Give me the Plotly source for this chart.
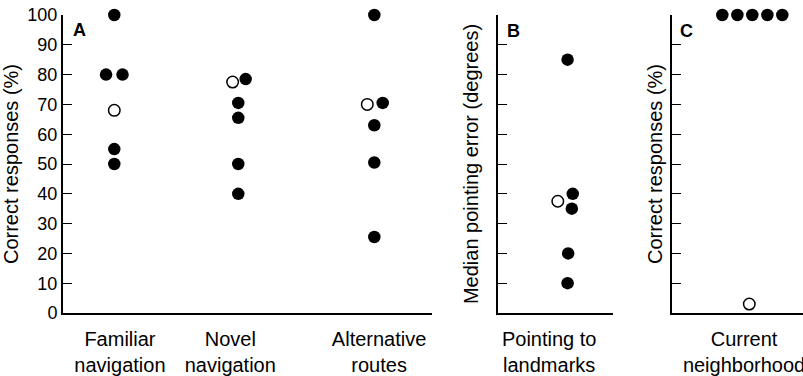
import plotly.graph_objects as go

# ---------------- data ----------------
categories_a = ["Familiar<br>navigation", "Novel<br>navigation", "Alternative<br>routes"]
familiar_filled = [100, 80, 80, 55, 50]
familiar_open = [68]
novel_filled = [78.5, 70.5, 65.5, 50, 40]
novel_open = [77.5]
alt_filled = [100, 70.5, 63, 50.5, 25.5]
alt_open = [70]

category_b = ["Pointing to<br>landmarks"]
pointing_filled = [85, 40, 35, 20, 10]
pointing_open = [37.5]

category_c = ["Current<br>neighborhood"]
neigh_filled = [100, 100, 100, 100, 100]
neigh_open = [3]

y_ticks = list(range(0, 101, 10))

# ---------------- layout helpers (positions / styles) ----------------
W, H = 803, 376
FONT = "Liberation Sans, Arial, Helvetica, sans-serif"

def xdom(a, b):
    return [a / W, b / W]

ydom = [1 - 313 / H, 1 - 15 / H]

# dot x positions (axis units) and small horizontal jitter for overlapping dots
a_centers = [0.417, 1.425, 2.531]
a_label_pos = [0.463, 1.36, 2.57]
familiar_jit_f = [0, -0.067, 0.067, 0, 0]
familiar_jit_o = [0]
novel_jit_f = [0.06, 0, 0, 0, 0]
novel_jit_o = [-0.046]
alt_jit_f = [0, 0.068, 0, 0, 0]
alt_jit_o = [-0.057]

b_center = 0.605
b_label_pos = [0.445]
point_jit_f = [0, 0.045, 0.037, 0.005, 0]
point_jit_o = [-0.085]

c_label_pos = [0.55]
neigh_jit_f = [0.384, 0.499, 0.613, 0.728, 0.842]
neigh_jit_o = [0.59]

filled_marker = dict(size=12.5, color="black", line=dict(width=0))
open_marker = dict(size=11.5, color="white", line=dict(width=1.5, color="black"))

fig = go.Figure()

def add_pts(vals, center, jit, marker, xa, ya):
    fig.add_trace(go.Scatter(
        x=[center + j for j in jit], y=vals, mode="markers", marker=marker,
        xaxis=xa, yaxis=ya, cliponaxis=False, showlegend=False, hoverinfo="y"))

# Panel A
add_pts(familiar_filled, a_centers[0], familiar_jit_f, filled_marker, "x", "y")
add_pts(familiar_open, a_centers[0], familiar_jit_o, open_marker, "x", "y")
add_pts(novel_filled, a_centers[1], novel_jit_f, filled_marker, "x", "y")
add_pts(novel_open, a_centers[1], novel_jit_o, open_marker, "x", "y")
add_pts(alt_filled, a_centers[2], alt_jit_f, filled_marker, "x", "y")
add_pts(alt_open, a_centers[2], alt_jit_o, open_marker, "x", "y")
# Panel B
add_pts(pointing_filled, b_center, point_jit_f, filled_marker, "x2", "y2")
add_pts(pointing_open, b_center, point_jit_o, open_marker, "x2", "y2")
# Panel C
add_pts(neigh_filled, 0, neigh_jit_f, filled_marker, "x3", "y3")
add_pts(neigh_open, 0, neigh_jit_o, open_marker, "x3", "y3")

xcommon = dict(showline=True, linewidth=2, linecolor="black", showgrid=False,
               zeroline=False, ticks="", tickfont=dict(family=FONT, size=20, color="black"),
               ticklabelstandoff=7, ticklabeloverflow="allow",
               fixedrange=True, automargin=False)
ycommon = dict(domain=ydom, range=[0, 100], showline=True, linewidth=2, linecolor="black",
               showgrid=False, zeroline=False, ticks="inside", ticklen=9, tickwidth=1,
               tickcolor="black", tickvals=y_ticks,
               tickfont=dict(family=FONT, size=18, color="black"),
               title_font=dict(family=FONT, size=20, color="black"), fixedrange=True,
               automargin=False)

letter_font = dict(family=FONT, size=18, color="black")

fig.update_layout(
    width=W, height=H, margin=dict(l=0, r=0, t=0, b=0, autoexpand=False),
    paper_bgcolor="white", plot_bgcolor="white",
    font=dict(family=FONT, color="black"),
    xaxis=dict(xcommon, domain=xdom(63, 432), range=[0, 3], anchor="y",
               tickvals=a_label_pos, ticktext=categories_a),
    yaxis=dict(ycommon, anchor="x", title=dict(text="Correct responses (%)", standoff=4)),
    xaxis2=dict(xcommon, domain=xdom(498, 613), range=[0, 1], anchor="y2",
                tickvals=b_label_pos, ticktext=category_b),
    yaxis2=dict(ycommon, anchor="x2", showticklabels=False,
                title=dict(text="Median pointing error (degrees)", standoff=12)),
    xaxis3=dict(xcommon, domain=xdom(672, 803), range=[0, 1], anchor="y3",
                tickvals=c_label_pos, ticktext=category_c),
    yaxis3=dict(ycommon, anchor="x3", showticklabels=False,
                title=dict(text="Correct responses (%)", standoff=2)),
    annotations=[
        dict(text="<b>A</b>", x=79 / W, y=1 - 30 / H, xref="paper", yref="paper",
             xanchor="center", yanchor="middle", showarrow=False, font=letter_font),
        dict(text="<b>B</b>", x=513 / W, y=1 - 31 / H, xref="paper", yref="paper",
             xanchor="center", yanchor="middle", showarrow=False, font=letter_font),
        dict(text="<b>C</b>", x=686 / W, y=1 - 31 / H, xref="paper", yref="paper",
             xanchor="center", yanchor="middle", showarrow=False, font=letter_font),
    ],
)

fig.write_html("out.html", config={"displayModeBar": False},
               post_script="document.body.style.margin='0';document.body.style.overflow='hidden';")
